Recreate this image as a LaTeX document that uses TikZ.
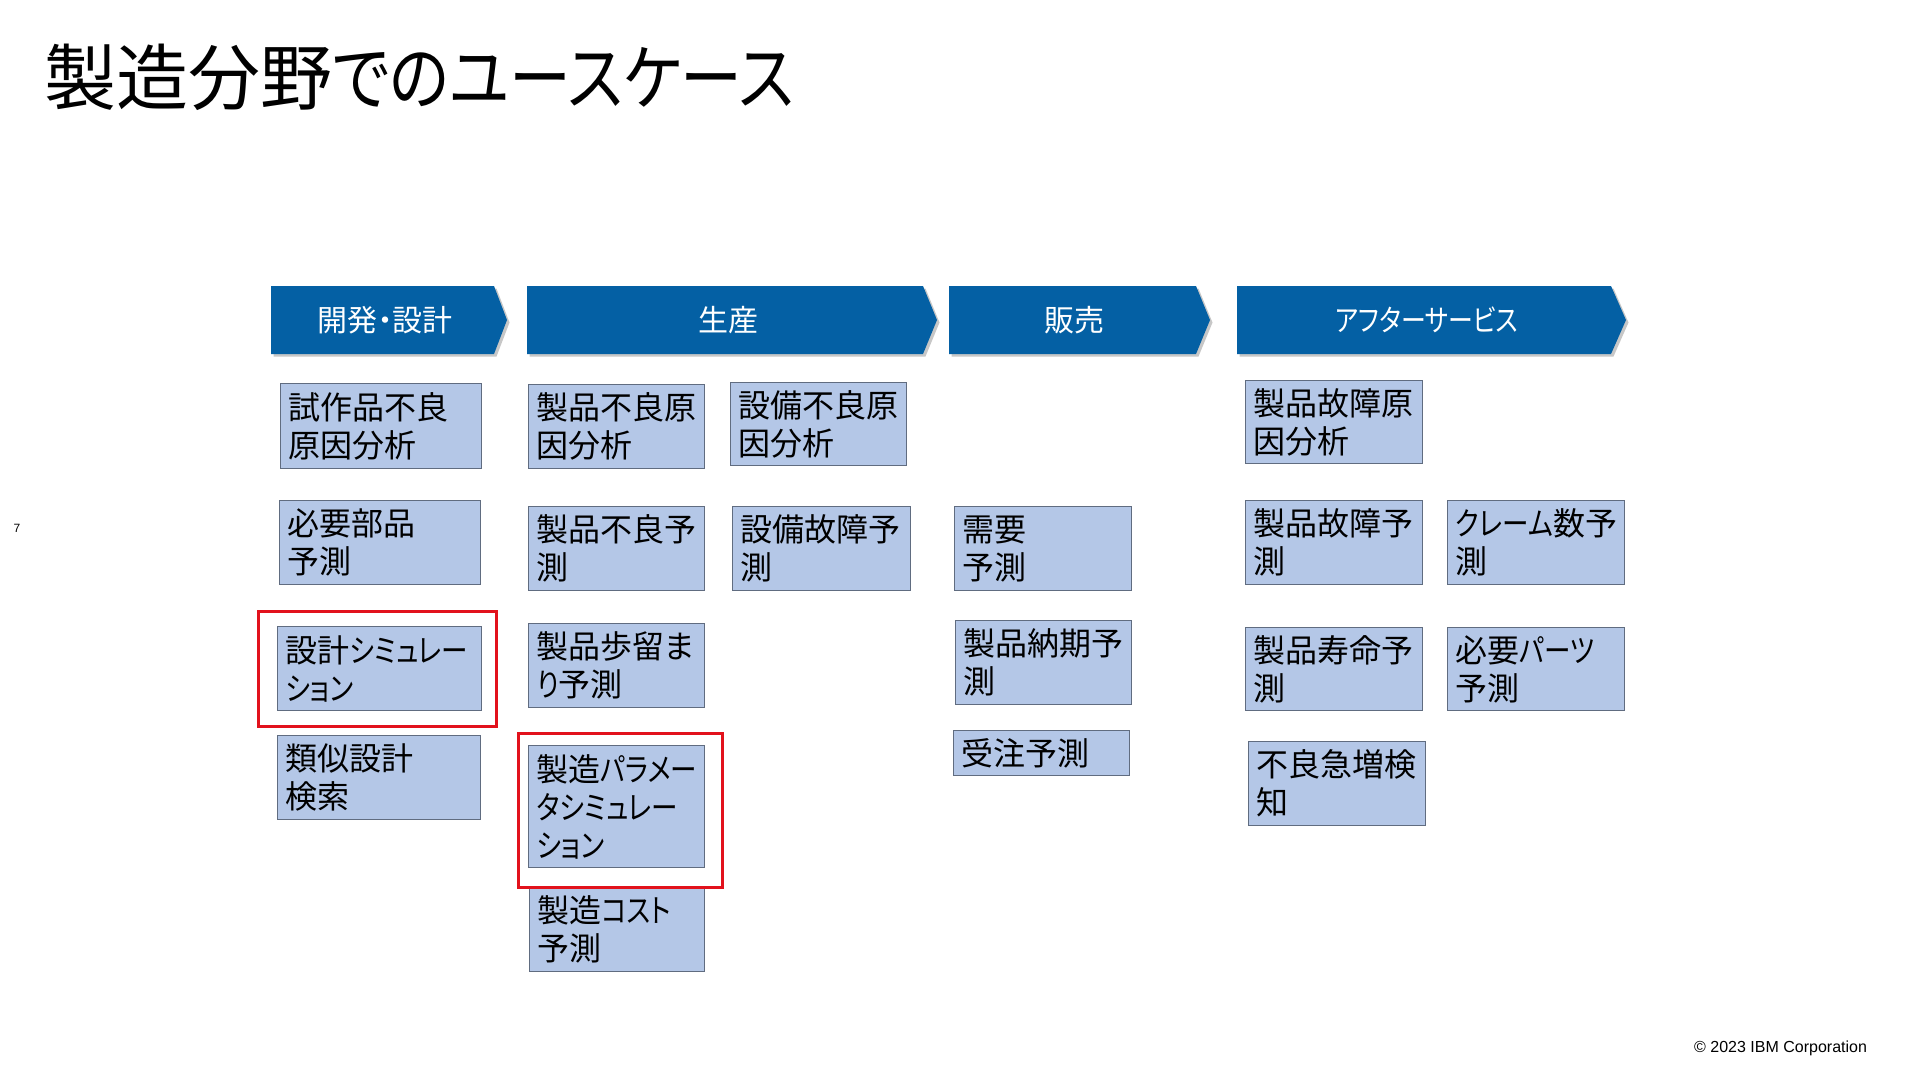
\documentclass[tikz,border=0pt]{standalone}
\usepackage{fontspec}
\setmainfont{Noto Sans CJK JP}[RawFeature=+palt]
\newfontfamily\kana{Noto Sans CJK JP}[RawFeature=+palt, FakeStretch=0.83]
\newfontfamily\titlekana{Noto Sans CJK JP}[RawFeature=+palt, FakeStretch=0.86]
\newfontfamily\latinsans{Liberation Sans}
\definecolor{phaseblue}{RGB}{4,96,164}
\definecolor{boxfill}{RGB}{180,199,231}
\definecolor{boxline}{RGB}{96,108,128}
\definecolor{hired}{RGB}{226,18,28}
\newcommand{\kn}[1]{{\kana #1}}
\tikzset{
  ucTWset/.code 2 args={\pgfmathsetmacro\ucTW{#1-16}\tikzset{minimum width=#1pt,minimum height=#2pt,text width=\ucTW pt}},
  ucbox/.style={draw=boxline, fill=boxfill, line width=1.3pt, anchor=north west,
    inner xsep=8pt, inner ysep=0pt, align=left, text=black,
    font=\fontsize{32}{38}\selectfont},
  phasefill/.style={fill=phaseblue},
  phaseshadow/.style={fill=black!22},
  phasetext/.style={text=white, font=\fontsize{30}{34}\selectfont, inner sep=0pt},
  hilite/.style={draw=hired, line width=3pt},
}
\begin{document}
\begin{tikzpicture}[x=1pt,y=-1pt]
\useasboundingbox (0,0) rectangle (1920,1080);
\fill[white] (0,0) rectangle (1920,1080);

% title
\node[anchor=west, inner sep=0pt, font=\fontsize{72}{80}\selectfont] (title) at (44,77) {製造分野{\titlekana でのユースケース}};

% page number and copyright
\node[anchor=center, inner sep=0pt, font=\latinsans\fontsize{12}{13}\selectfont] (pageno) at (17,528) {7};
\node[anchor=west, inner sep=0pt, font=\latinsans\fontsize{16}{18}\selectfont] (copy) at (1694,1048) {© 2023 IBM Corporation};

% phase arrows (shadow then body)
\foreach \l/\b/\t in {271/494/507, 527/923/937, 949/1196/1210, 1237/1611/1626}{
  \fill[phaseshadow] (\l+2.5,288.5) -- (\b+2.5,288.5) -- (\t+2.5,322.5) -- (\b+2.5,356.5) -- (\l+2.5,356.5) -- cycle;
  \fill[phasefill] (\l,286) -- (\b,286) -- (\t,320) -- (\b,354) -- (\l,354) -- cycle;
}
\node[phasetext] (p1) at (385,320) {開発・設計};
\node[phasetext] (p2) at (728,320) {生産};
\node[phasetext] (p3) at (1074,320) {販売};
\node[phasetext] (p4) at (1427,320) {\kn{アフターサービス}};

% column 1
\node[ucbox, ucTWset={201}{85}] (b11) at (280,383) {試作品不良\\原因分析};
\node[ucbox, ucTWset={201}{84}] (b12) at (279,500) {必要部品\\予測};
\node[ucbox, ucTWset={204}{84}] (b13) at (277,626) {設計\kn{シミュレー}\\\kn{ション}};
\node[ucbox, ucTWset={203}{84}] (b14) at (277,735) {類似設計\\検索};

% column 2
\node[ucbox, ucTWset={176}{84}] (b21) at (528,384) {製品不良原\\因分析};
\node[ucbox, ucTWset={176}{84}] (b22) at (528,506) {製品不良予\\測};
\node[ucbox, ucTWset={176}{84}] (b23) at (528,623) {製品歩留ま\\\kn{り}予測};
\node[ucbox, ucTWset={176}{122}] (b24) at (528,745) {製造\kn{パラメー}\\\kn{タシミュレー}\\\kn{ション}};
\node[ucbox, ucTWset={175}{84}] (b25) at (529,887) {製造\kn{コスト}\\予測};

% column 3
\node[ucbox, ucTWset={176}{83}] (b31) at (730,382) {設備不良原\\因分析};
\node[ucbox, ucTWset={178}{84}] (b32) at (732,506) {設備故障予\\測};

% column 4
\node[ucbox, ucTWset={177}{84}] (b41) at (954,506) {需要\\予測};
\node[ucbox, ucTWset={176}{84}] (b42) at (955,620) {製品納期予\\測};
\node[ucbox, ucTWset={176}{45}] (b43) at (953,730) {受注予測};

% column 5
\node[ucbox, ucTWset={177}{83}] (b51) at (1245,380) {製品故障原\\因分析};
\node[ucbox, ucTWset={177}{84}] (b52) at (1245,500) {製品故障予\\測};
\node[ucbox, ucTWset={177}{83}] (b53) at (1245,627) {製品寿命予\\測};
\node[ucbox, ucTWset={177}{84}] (b54) at (1248,741) {不良急増検\\知};

% column 6
\node[ucbox, ucTWset={177}{84}] (b61) at (1447,500) {\kn{クレーム}数予\\測};
\node[ucbox, ucTWset={177}{83}] (b62) at (1447,627) {必要\kn{パーツ}\\予測};

% highlight frames
\draw[hilite] (258,611) rectangle (496,726);
\draw[hilite] (518,733) rectangle (722,887);
\end{tikzpicture}
\end{document}
